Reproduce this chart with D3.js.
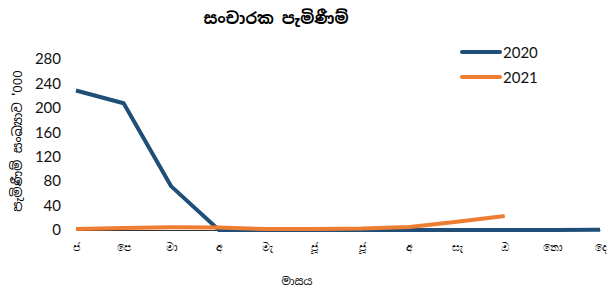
<!DOCTYPE html>
<html>
<head>
<meta charset="utf-8">
<script src="https://cdn.jsdelivr.net/npm/d3@7"></script>
<style>
  body { margin: 0; background: #fff; }
  svg { font-family: "Noto Sans Sinhala", "Iskoola Pota", "Noto Sans", sans-serif; }
</style>
</head>
<body>
<svg id="chart" width="608" height="289"></svg>
<script>
const months = ['ජ', 'පෙ', 'මා', 'අ', 'මැ', 'ජූ', 'ජූ', 'අ', 'සැ', 'ඔ', 'නො', 'දෙ'];
const values2020 = [228.4, 207.5, 71.4, 0, 0, 0, 0, 0, 0, 0, 0, 0.4];
const values2021 = [1.7, 3.4, 4.6, 4.2, 1.5, 1.6, 2.4, 5.0, 13.5, 22.8];
const yTicks = [0, 40, 80, 120, 160, 200, 240, 280];
const seriesNames = ['2020', '2021'];
const colors = ['#1f4e79', '#ed7d31'];

const svg = d3.select('#chart');

const margin = { top: 59, bottom: 59, right: 8, left: 76 };
const width = +svg.attr('width');
const height = +svg.attr('height');
const innerWidth = width - margin.left - margin.right;
const innerHeight = height - margin.top - margin.bottom;

// month index -> x, so that repeated labels stay separate
const xScale = d3.scalePoint()
    .domain(d3.range(months.length))
    .range([0, innerWidth]);

const yScale = d3.scaleLinear()
    .domain([0, 280])
    .range([innerHeight, 0]);

const g = svg.append('g')
    .attr('transform', `translate(${margin.left}, ${margin.top})`);

// y axis: labels only
const yAxisG = g.append('g')
    .call(d3.axisLeft(yScale).tickValues(yTicks).tickSize(0).tickPadding(15))
    .style('font-family', 'Lato, "Noto Sans", sans-serif')
    .style('font-size', '15px');
yAxisG.select('.domain').remove();
yAxisG.selectAll('text').attr('fill', '#111');

// x axis
const xAxisG = g.append('g')
    .attr('transform', `translate(0, ${innerHeight})`)
    .call(d3.axisBottom(xScale).tickFormat(i => months[i]).tickSize(0).tickPadding(13))
    .style('font-size', '11px');
xAxisG.select('.domain').attr('stroke', '#333').attr('stroke-width', 1);
xAxisG.selectAll('text').attr('fill', '#000');

const line = d3.line()
    .x((d, i) => xScale(i))
    .y(d => yScale(d));

const series = [values2020, values2021];
series.forEach((vals, k) => {
    g.append('path')
        .datum(vals)
        .attr('fill', 'none')
        .attr('stroke', colors[k])
        .attr('stroke-width', 4)
        .attr('stroke-linejoin', 'round')
        .attr('d', line);
});

// legend
const legend = svg.append('g').attr('transform', 'translate(462, 52)');
seriesNames.forEach((name, k) => {
    const row = legend.append('g').attr('transform', `translate(0, ${k * 25})`);
    row.append('line')
        .attr('x1', 0).attr('x2', 38)
        .attr('stroke', colors[k])
        .attr('stroke-width', 4)
        .attr('stroke-linecap', 'round');
    row.append('text')
        .attr('x', 41)
        .attr('y', 6)
        .style('font-family', 'Lato, "Noto Sans", sans-serif')
        .style('font-size', '15px')
        .attr('fill', '#111')
        .text(name);
});

// title
svg.append('text')
    .attr('x', 276)
    .attr('y', 24)
    .attr('text-anchor', 'middle')
    .style('font-size', '16px')
    .style('font-weight', 'bold')
    .text('සංචාරක පැමිණීම්');

// axis titles
svg.append('text')
    .attr('transform', 'translate(22, 141) rotate(-90)')
    .attr('text-anchor', 'middle')
    .style('font-size', '13px')
    .text("පැමිණීම් සංඛ්‍යාව '000");

svg.append('text')
    .attr('x', 297)
    .attr('y', 285)
    .attr('text-anchor', 'middle')
    .style('font-size', '11px')
    .text('මාසය');
</script>
</body>
</html>
